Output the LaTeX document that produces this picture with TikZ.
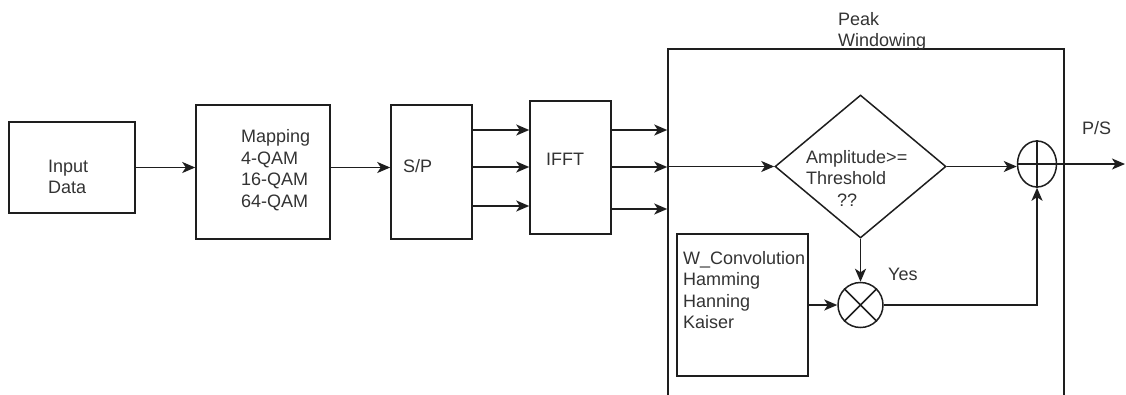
\documentclass[tikz,border=0pt]{standalone}
\usepackage{fontspec}
\setmainfont{Liberation Sans}
\usepackage{tikz}
\usetikzlibrary{arrows.meta, positioning, shapes.geometric}
\definecolor{cline}{HTML}{1E1E1E}
\definecolor{ctext}{HTML}{333333}

\begin{document}
\begin{tikzpicture}[
  x=1pt, y=-1pt,
  font=\fontsize{18}{21.5}\selectfont,
  box/.style={draw=cline, line width=1.5pt, inner sep=0pt},
  txt/.style={text=ctext, align=left, inner sep=0pt, anchor=west},
  flow/.style={draw=cline, line width=1.8pt, -{Stealth[length=13pt, width=11pt, inset=3.5pt]}}
]
\useasboundingbox (0,0) rectangle (1126,394);
\node[box, minimum width=126, minimum height=91]  (inp)  at (72,167.5)  {};
\node[box, minimum width=134, minimum height=134] (map)  at (263,172)   {};
\node[box, minimum width=81,  minimum height=134] (sp)   at (431.5,172) {};
\node[box, minimum width=81,  minimum height=133] (ifft) at (570.5,167.5) {};
\begin{scope}
  \clip (0,0) rectangle (1126,394);
  \node[box, minimum width=396, minimum height=360] (peak) at (866,229) {};
\end{scope}
\node[box, diamond, minimum width=171, minimum height=143] (dec) at (860.5,166.5) {};
\node[box, minimum width=131, minimum height=142] (wconv) at (742.5,305) {};
\node[box, circle, minimum size=45] (mult) at (860.5,305) {};
\node[box, ellipse, minimum width=39, minimum height=46] (add) at (1037,164) {};
\coordinate (out) at (1125,164);

\node[txt] (inptxt)  at (48,177)  {Input\\Data};
\node[txt] (maptxt)  at (241,170) {Mapping\\4-QAM\\16-QAM\\64-QAM};
\node[txt] (sptxt)   at (403,166) {S/P};
\node[txt] (iffttxt) at (546,159) {IFFT};
\node[txt] (peaktxt) at (838,31.5) {Peak\\Windowing};
\node[txt] (dectxt)  at (806,178) {Amplitude>=\\Threshold\\\hspace{31pt}??};
\node[txt] (wtxt)    at (683,290) {W\_Convolution\\Hamming\\Hanning\\Kaiser};
\node[txt] (pstxt)   at (1082,128) {P/S};
\node[txt] (yestxt)  at (888,274) {Yes};

\draw[cline, line width=1.5pt] (add.north) -- (add.south) (add.west) -- (add.east);
\draw[cline, line width=1.5pt] (mult.north east) -- (mult.south west) (mult.north west) -- (mult.south east);

\draw[flow] (inp.east) -- (inp.east -| map.west);
\draw[flow] (map.east |- inp.east) -- (sp.west |- inp.east);
\foreach \yy in {130,167,206}
  \draw[flow] (sp.east |- 0,\yy) -- (ifft.west |- 0,\yy);
\foreach \yy in {130,167,209}
  \draw[flow] (ifft.east |- 0,\yy) -- (peak.west |- 0,\yy);
\draw[flow] (peak.west |- dec.west) -- (dec.west);
\draw[flow] (dec.east) -- (dec.east -| add.west);
\draw[flow] (add.east) -- (out);
\draw[flow] (dec.south) -- (mult.north);
\draw[flow] (wconv.east) -- (mult.west);
\draw[flow] (mult.east) -| (add.south);
\end{tikzpicture}
\end{document}
